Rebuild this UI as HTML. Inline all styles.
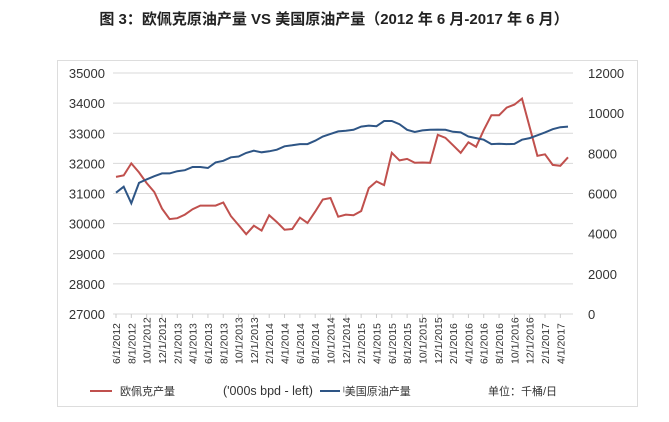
<!DOCTYPE html>
<html><head><meta charset="utf-8"><style>
body{margin:0;background:#fff;width:669px;height:417px;overflow:hidden;font-family:"Liberation Sans","Noto Sans CJK SC",sans-serif}
</style></head><body>
<svg id="s" width="669" height="417" xmlns="http://www.w3.org/2000/svg" font-family="Liberation Sans, Noto Sans CJK SC, sans-serif">
<text x="334" y="24" text-anchor="middle" font-size="15" font-weight="bold" fill="#222">图 3：欧佩克原油产量 VS 美国原油产量（2012 年 6 月-2017 年 6 月）</text>
<rect x="57.5" y="60.5" width="580" height="346" fill="none" stroke="#ddd"/>
<g id="g"></g>
</svg>
<script>
var g=document.getElementById('g'),h='';
var L=113,R=573,T=73,B=314;
for(var i=0;i<=8;i++){var y=T+i*(B-T)/8;h+='<line x1="'+L+'" x2="'+R+'" y1="'+y+'" y2="'+y+'" stroke="#d9d9d9"/>';
h+='<text x="105" y="'+(y+5)+'" text-anchor="end" font-size="13" fill="#333">'+(35000-i*1000)+'</text>';}
for(var i=0;i<=6;i++){var y=T+i*(B-T)/6;h+='<text x="588" y="'+(y+5)+'" font-size="13" fill="#333">'+(12000-i*2000)+'</text>';}
var step=(568-116)/59;
var labs=[];var m=6,yr=2012;
for(var k=0;k<30;k++){var x=116+k*2*step;h+='<line x1="'+x+'" x2="'+x+'" y1="'+B+'" y2="'+(B+4)+'" stroke="#ccc"/>';
h+='<text transform="translate('+(x+4)+','+(B+50)+') rotate(-90)" font-size="10.5" fill="#333">'+m+'/1/'+yr+'</text>';m+=2;if(m>12){m-=12;yr++;}}
var red=[31550,31600,32000,31700,31350,31050,30500,30150,30180,30300,30480,30600,30600,30600,30700,30250,29950,29650,29930,29770,30280,30050,29800,29820,30200,30020,30400,30800,30850,30230,30300,30280,30420,31180,31400,31280,32350,32100,32150,32020,32030,32020,32950,32850,32600,32350,32700,32550,33100,33600,33600,33850,33950,34150,33200,32250,32300,31950,31920,32200];
var blue=[6040,6340,5510,6530,6700,6860,7000,7000,7110,7160,7320,7320,7270,7550,7630,7800,7840,8020,8130,8050,8100,8180,8350,8400,8460,8460,8630,8840,8970,9090,9120,9170,9330,9380,9350,9610,9610,9450,9170,9060,9140,9170,9180,9170,9070,9040,8840,8760,8680,8460,8480,8460,8470,8680,8760,8900,9040,9200,9300,9330];
function pl(a,f,c){var p=a.map(function(v,i){return (116+i*step).toFixed(1)+','+f(v).toFixed(1)}).join(' ');return '<polyline points="'+p+'" fill="none" stroke="'+c+'" stroke-width="2"/>';}
h+=pl(red,function(v){return T+(35000-v)/8000*(B-T)},'#c0504d');
h+=pl(blue,function(v){return T+(12000-v)/12000*(B-T)},'#2e5585');
h+='<line x1="90" x2="112" y1="391" y2="391" stroke="#c0504d" stroke-width="2"/><text x="120" y="395" font-size="11" fill="#333">欧佩克产量</text>';
h+='<text x="223" y="395" font-size="12.5" fill="#333">(\'000s bpd - left)</text><line x1="320" x2="340" y1="391" y2="391" stroke="#2e5585" stroke-width="2"/><text x="343" y="395" font-size="11" fill="#333">ˡ美国原油产量</text>';
h+='<text x="488" y="395" font-size="11" fill="#333">单位：千桶/日</text>';
g.innerHTML=h;
</script>
</body></html>
